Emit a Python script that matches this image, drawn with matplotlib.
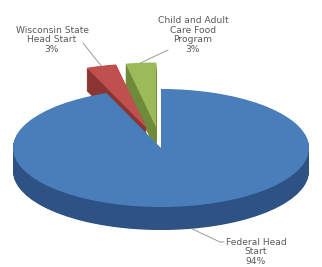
import matplotlib
matplotlib.use("Agg")
import matplotlib.pyplot as plt
import numpy as np

# ---- data ----
categories = ["Federal Head\nStart", "Wisconsin State\nHead Start", "Child and Adult\nCare Food\nProgram"]
shares = [94, 3, 3]
pct_labels = ["94%", "3%", "3%"]

# ---- style ----
top_colors = ["#4A7EBB", "#C0504D", "#9BBB59"]
side_colors = ["#2D5283", "#8A3533", "#6E8A3A"]
explode = [0.0, 0.35, 0.35]
slice_radius = [1.0, 1.1, 1.1]
depth = 0.39
n_layers = 40

W, H = 322, 267
fig = plt.figure(figsize=(W / 100, H / 100), dpi=100)
ax = fig.add_axes([0, 0, 1, 1])
ax.axis("off")


def draw_pie(dy, colors):
    wedges, _ = ax.pie(shares, startangle=90, counterclock=False, colors=colors,
                       explode=explode, center=(0, dy), frame=False,
                       wedgeprops=dict(linewidth=0))
    for w, r in zip(wedges, slice_radius):
        w.set_radius(r)
    return wedges


for dy in np.linspace(-depth, -0.01, n_layers):
    draw_pie(dy, side_colors)
wedges = draw_pie(0.0, top_colors)

# map pixel geometry: center (161,148), rx=148, ry=59
cx, cy, rx, ry = 161, 148, 148, 59
ax.set_aspect("auto")
ax.set_xlim(-cx / rx, (W - cx) / rx)
ax.set_ylim((cy - H) / ry, cy / ry)

# labels and leader lines
label_pos = [(256, 252), (52, 40), (193, 35)]
line_color = "#8C8C8C"
text_color = "#595959"
for i, (w, (px, py)) in enumerate(zip(wedges, label_pos)):
    theta = np.deg2rad((w.theta1 + w.theta2) / 2)
    r = w.r
    wx, wy = w.center
    if i == 0:
        theta = np.deg2rad(-78)
        anchor = (wx + r * np.cos(theta), wy + r * np.sin(theta) - depth)
    else:
        anchor = (wx + r * np.cos(theta), wy + r * np.sin(theta))
    tx, ty = (px - cx) / rx, (cy - py) / ry
    ax.text(tx, ty, categories[i] + "\n" + pct_labels[i], ha="center", va="center",
            fontsize=6.6, color=text_color, family="DejaVu Sans", linespacing=1.12)
    if i == 0:
        ax.plot([anchor[0], (220 - cx) / rx, (224 - cx) / rx],
                [anchor[1], (cy - 242) / ry, (cy - 242) / ry], color=line_color, lw=0.6)
    elif i == 1:
        ax.plot([anchor[0], (83 - cx) / rx], [anchor[1], (cy - 43) / ry], color=line_color, lw=0.6)
    else:
        ax.plot([anchor[0], (168 - cx) / rx], [anchor[1], (cy - 50) / ry], color=line_color, lw=0.6)

fig.savefig("out.png", dpi=100)
